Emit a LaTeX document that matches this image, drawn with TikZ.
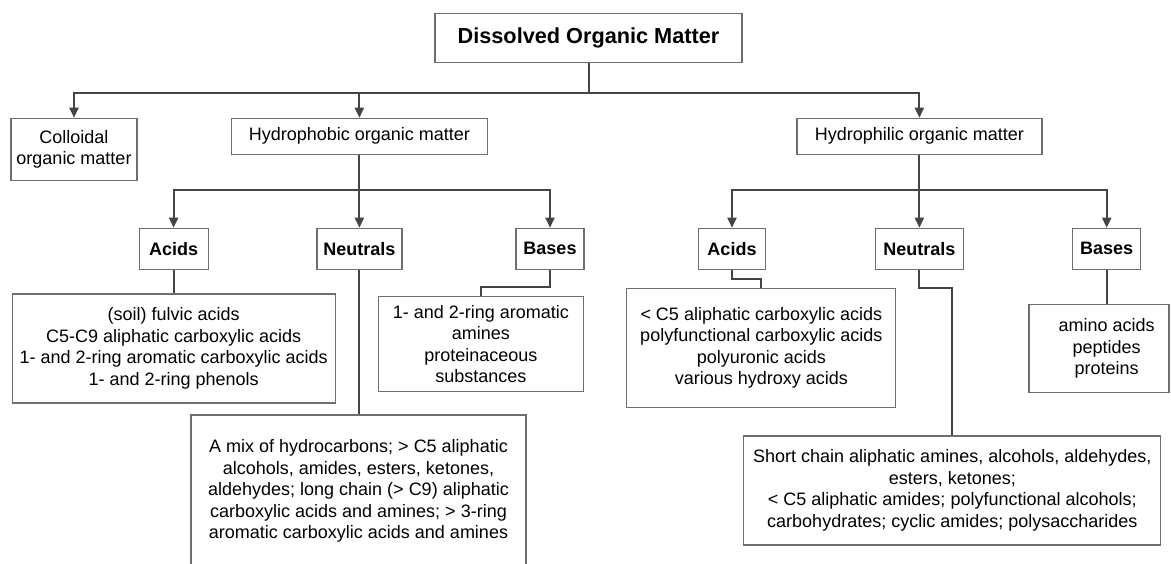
\documentclass[tikz,border=0pt]{standalone}
\usepackage{fontspec}
\setmainfont{Liberation Sans}
\usetikzlibrary{arrows.meta}

\definecolor{boxline}{HTML}{6E6E6E}
\definecolor{linkline}{HTML}{444444}

\tikzset{
	box/.style={draw=boxline, line width=1.2pt, inner sep=0pt, align=center, font=\fontsize{18}{21.5}\selectfont},
	group/.style={box, minimum height=41pt, font=\bfseries\fontsize{18}{21.5}\selectfont},
	link/.style={draw=linkline, line width=2pt},
	arr/.style={link, -{Triangle[length=10pt, width=9pt]}},
}

\begin{document}
\begin{tikzpicture}[x=1pt, y=-1pt]

	\useasboundingbox (0,0) rectangle (1171,563);

	\node[box, minimum width=307pt, minimum height=49pt, font=\bfseries\fontsize{21.7}{26}\selectfont] (dom) at (588.5,37.7) {Dissolved Organic Matter};

	\node[box, minimum width=126pt, minimum height=62pt] (colloid) at (74,149.3) {Colloidal\\organic matter};
	\node[box, minimum width=256pt, minimum height=36pt] (phob) at (359.4,136.3) {Hydrophobic organic matter};
	\node[box, minimum width=245pt, minimum height=36pt] (phil) at (919.4,136.3) {Hydrophilic organic matter};

	\coordinate (domsplit) at (588.5,93.3);

	\draw[link] (dom) -- (domsplit);
	\draw[arr] (domsplit) -| (colloid);
	\draw[arr] (domsplit) -| (phob);
	\draw[arr] (domsplit) -| (phil);

	%%% Hydrophobic %%%

	\node[group, minimum width=69pt] (phobacid) at (173.6,248.8) {Acids};
	\node[group, minimum width=85pt] (phobneut) at (359.4,248.8) {Neutrals};
	\node[group, minimum width=68pt] (phobbase) at (550,248.8) {Bases};

	\coordinate (phobsplit) at (359.4,190);

	\draw[link] (phob) -- (phobsplit);
	\draw[arr] (phobsplit) -| (phobacid);
	\draw[arr] (phobsplit) -- (phobneut);
	\draw[arr] (phobsplit) -| (phobbase);

	\node[box, minimum width=323pt, minimum height=109pt] (phobacidlist) at (173.6,348.5) {(soil) fulvic acids\\C5-C9 aliphatic carboxylic acids\\1- and 2-ring aromatic carboxylic acids\\1- and 2-ring phenols};
	\node[box, minimum width=335pt, minimum height=152pt] (phobneutlist) at (358.5,491) {A mix of hydrocarbons; > C5 aliphatic\\alcohols, amides, esters, ketones,\\aldehydes; long chain (> C9) aliphatic\\carboxylic acids and amines; > 3-ring\\aromatic carboxylic acids and amines};
	\node[box, minimum width=205pt, minimum height=95pt] (phobbaselist) at (480.8,344.2) {1- and 2-ring aromatic\\amines\\proteinaceous\\substances};

	\coordinate (phobbend) at (480.8,286.7);

	\draw[link] (phobacid) -- (phobacidlist);
	\draw[link] (phobneut.south -| phobneutlist) -- (phobneutlist);
	\draw[link] (phobbase) |- (phobbend) -- (phobbaselist);

	%%% Hydrophilic %%%

	\node[group, minimum width=67pt] (philacid) at (732,248.8) {Acids};
	\node[group, minimum width=88pt] (philneut) at (919.4,248.8) {Neutrals};
	\node[group, minimum width=68pt] (philbase) at (1106.7,248.8) {Bases};

	\coordinate (philsplit) at (919.4,190);

	\draw[link] (phil) -- (philsplit);
	\draw[arr] (philsplit) -| (philacid);
	\draw[arr] (philsplit) -- (philneut);
	\draw[arr] (philsplit) -| (philbase);

	\node[box, minimum width=269pt, minimum height=119pt] (philacidlist) at (761.3,347.8) {< C5 aliphatic carboxylic acids\\polyfunctional carboxylic acids\\polyuronic acids\\various hydroxy acids};
	\node[box, minimum width=417pt, minimum height=109pt] (philneutlist) at (952.3,490.5) {Short chain aliphatic amines, alcohols, aldehydes,\\esters, ketones;\\< C5 aliphatic amides; polyfunctional alcohols;\\carbohydrates; cyclic amides; polysaccharides};
	\node[box, minimum width=140pt, minimum height=88pt] (philbaselist) at (1099,348.8) {};
	\node[box, draw=none] (philbasetext) at (1106.7,348.8) {amino acids\\peptides\\proteins};

	\coordinate (philacidbend) at (761.3,279.3);
	\coordinate (philneutbend) at (952.3,288.3);

	\draw[link] (philacid) |- (philacidbend) -- (philacidlist);
	\draw[link] (philneut) |- (philneutbend) -- (philneutlist);
	\draw[link] (philbase) -- (philbaselist.north -| philbase);

\end{tikzpicture}
\end{document}
